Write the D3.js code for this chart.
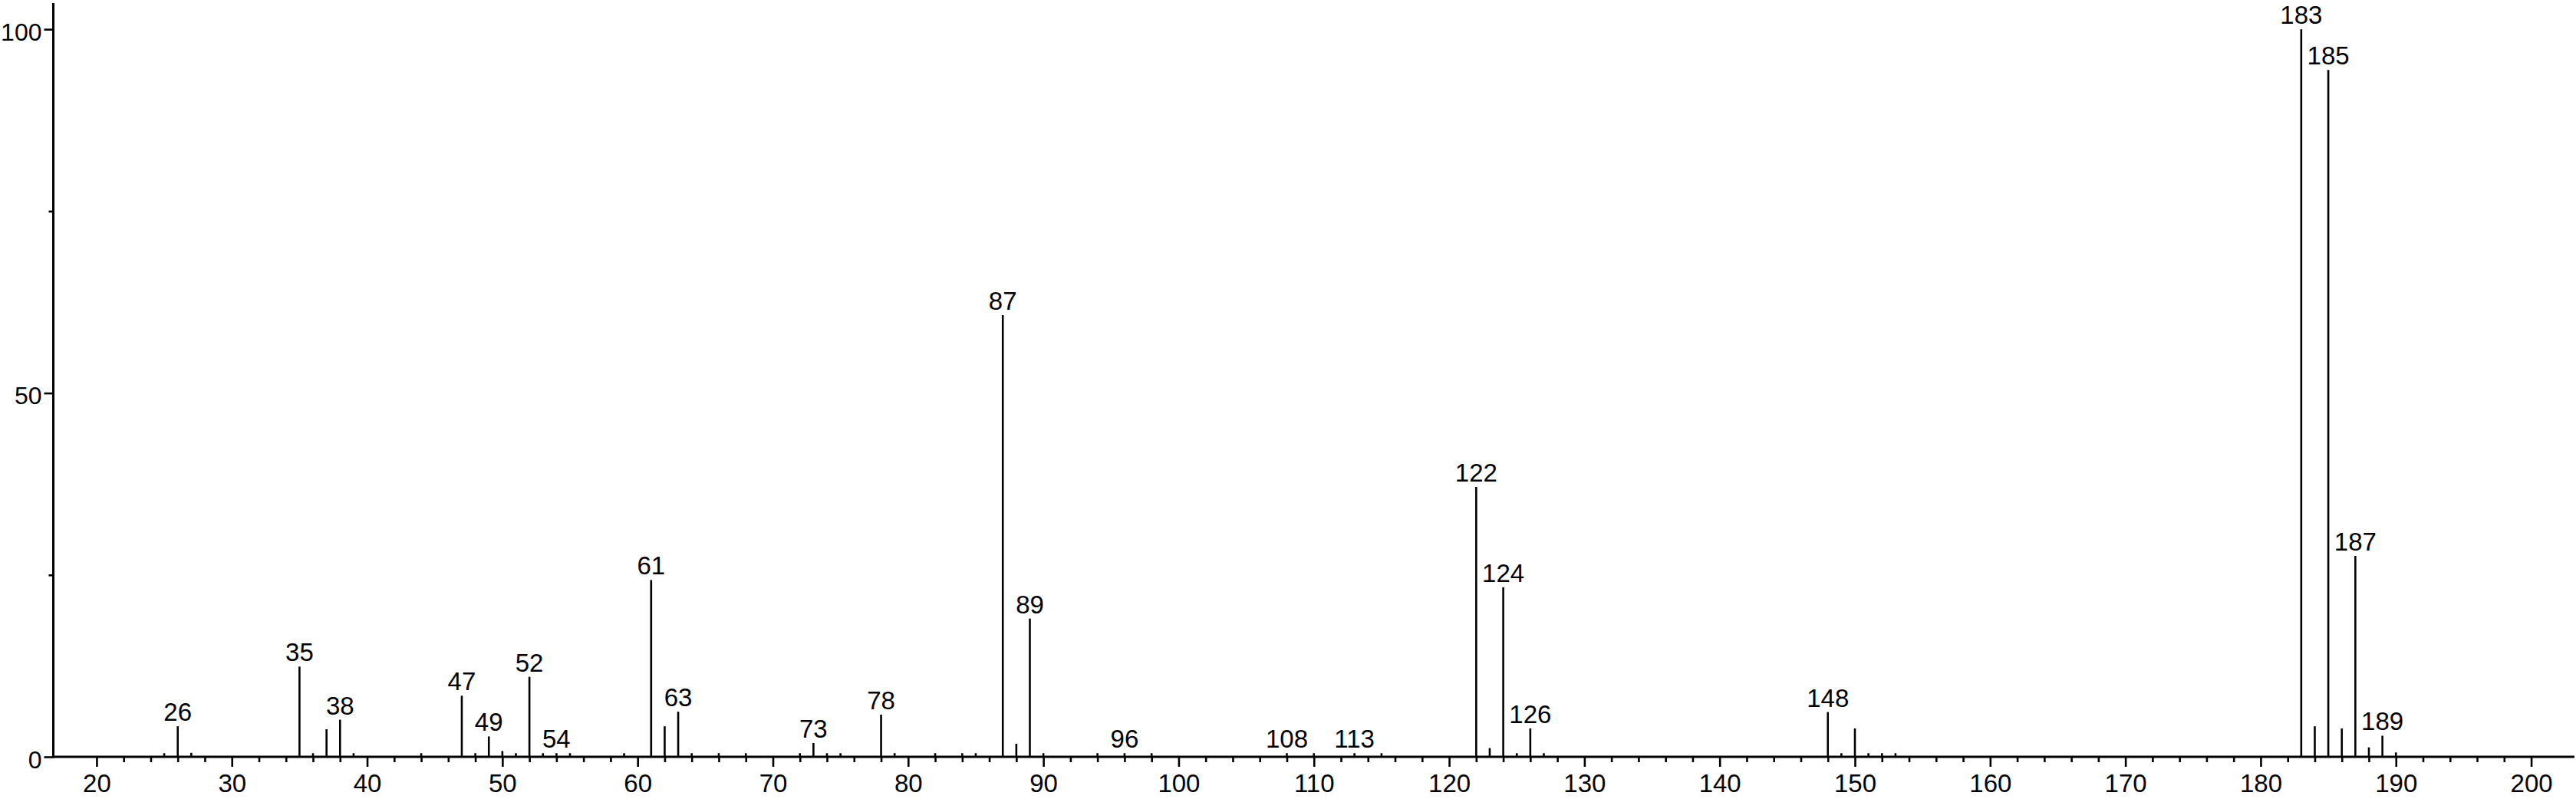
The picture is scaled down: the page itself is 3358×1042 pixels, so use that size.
<!DOCTYPE html>
<html lang="en">
<head>
    <meta charset="UTF-8">
    <script src="https://d3js.org/d3.v7.min.js"></script>
    <title>Mass spectrum</title>
    <style>
        body { margin: 0; background: #fff; }
        text { font-family: "Liberation Sans", Arial, sans-serif; }
    </style>
</head>
<body>
<script>
// peak data (m/z and relative intensity)
const mz = [25, 26, 27, 35, 36, 37, 38, 39, 44, 47, 48, 49, 50, 51, 52, 53, 54, 55, 59,
    61, 62, 63, 64, 66, 68, 72, 73, 74, 75, 79, 78, 82, 84, 85, 87, 88, 89, 90, 94, 96, 98,
    108, 110, 113, 115, 122, 123, 124, 125, 126, 127, 148, 149, 150, 151, 152, 153,
    183, 184, 185, 186, 187, 188, 189, 190];
const intensity = [0.5, 4.2, 0.55, 12.4, 0.5, 3.8, 5.1, 0.5, 0.5, 8.4, 0.5, 2.8, 0.8, 0.5, 11.0, 0.5, 0.5, 0.5, 0.5,
    24.3, 4.2, 6.2, 0.5, 0.5, 0.5, 0.5, 1.9, 0.5, 0.5, 0.5, 5.8, 0.5, 0.5, 0.5, 60.7, 1.8, 19.0, 0.5, 0.5, 0.5, 0.5,
    0.5, 0.5, 0.5, 0.5, 37.1, 1.2, 23.3, 0.5, 3.9, 0.5, 6.15, 0.5, 3.9, 0.5, 0.5, 0.5,
    100, 4.2, 94.4, 3.9, 27.6, 1.3, 2.9, 0.6];
// peaks that carry a m/z label
const labelled = [26, 35, 38, 47, 49, 52, 54, 61, 63, 73, 78, 87, 89, 96, 108, 113,
    122, 124, 126, 148, 183, 185, 187, 189];

const xMajor = d3.range(20, 201, 10);
const xMinor = d3.range(22, 200, 2).filter(v => v % 10 !== 0);
const yMajor = [0, 50, 100];
const yMinor = [25, 75];

const width = 3358, height = 1042;
const fontSize = 33;

const svg = d3.select('body').append('svg')
    .attr('width', width)
    .attr('height', height)
    .style('display', 'block');

const x = d3.scaleLinear().domain([16.8, 203.2]).range([69.5, 3356]);
const y = d3.scaleLinear().domain([0, 103.6]).range([987, 4]);

const peaks = mz.map((m, i) => ({ mz: m, v: intensity[i] }));

// peaks
svg.append('g')
    .selectAll('line')
    .data(peaks)
    .enter()
    .append('line')
    .attr('x1', d => x(d.mz))
    .attr('x2', d => x(d.mz))
    .attr('y1', y(0))
    .attr('y2', d => y(d.v))
    .attr('stroke', '#000')
    .attr('stroke-width', 2.6);

// peak labels
svg.append('g')
    .selectAll('text')
    .data(peaks.filter(d => labelled.includes(d.mz)))
    .enter()
    .append('text')
    .attr('x', d => x(d.mz))
    .attr('y', d => y(d.v) - 7)
    .attr('text-anchor', 'middle')
    .attr('font-size', fontSize)
    .attr('fill', '#000')
    .text(d => d.mz);

// x axis
const xAxis = svg.append('g')
    .attr('transform', `translate(0, ${y(0)})`)
    .call(d3.axisBottom(x).tickValues(xMajor).tickSize(13).tickPadding(10).tickSizeOuter(0));
xAxis.append('g')
    .call(d3.axisBottom(x).tickValues(xMinor).tickSize(7).tickFormat('').tickSizeOuter(0));

// y axis
const yAxis = svg.append('g')
    .attr('transform', `translate(${x.range()[0]}, 0)`)
    .call(d3.axisLeft(y).tickValues(yMajor).tickSize(12).tickPadding(3).tickSizeOuter(0));
yAxis.append('g')
    .call(d3.axisLeft(y).tickValues(yMinor).tickSize(6).tickFormat('').tickSizeOuter(0));

svg.selectAll('.domain').remove();
svg.selectAll('.tick line').attr('stroke', '#000').attr('stroke-width', 2.6);
xAxis.selectAll('text').attr('font-size', fontSize).attr('font-family', null).attr('fill', '#000');
yAxis.selectAll('text').attr('font-size', 32).attr('font-family', null).attr('fill', '#000')
    .attr('dy', '0.45em');

// axis lines
svg.append('line')
    .attr('x1', x.range()[0]).attr('x2', x.range()[1])
    .attr('y1', y(0)).attr('y2', y(0))
    .attr('stroke', '#000').attr('stroke-width', 3);
svg.append('line')
    .attr('x1', x.range()[0]).attr('x2', x.range()[0])
    .attr('y1', y.range()[0] + 1.5).attr('y2', y.range()[1])
    .attr('stroke', '#000').attr('stroke-width', 3);
</script>
</body>
</html>
